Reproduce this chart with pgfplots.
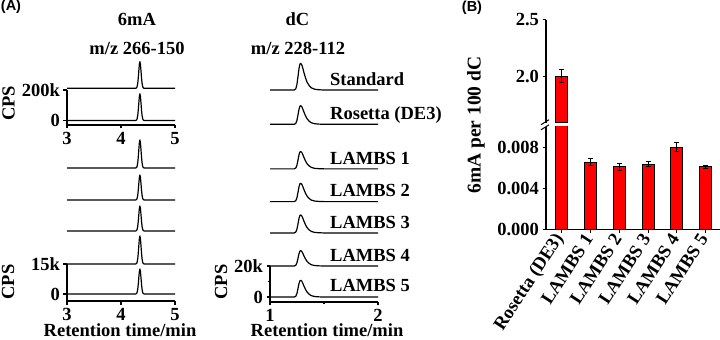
\documentclass[border=0pt]{standalone}
\usepackage{pgfplots}
\usepackage{pgfplotstable}
\pgfplotsset{compat=1.18}
\usepackage{fontspec}
\setmainfont{Liberation Serif}
\newfontfamily\arialfont{Liberation Sans}

\pgfplotstableread{
x std ros
3.00 211 0
4.27 211 0
4.29 214.5 3.5
4.30 225 14
4.31 244.3 33.3
4.32 279.3 68.3
4.33 326.5 115.5
4.34 368.5 157.5
4.35 386 175
4.36 368.5 157.5
4.37 326.5 115.5
4.38 279.3 68.3
4.39 244.3 33.3
4.40 225 14
4.41 214.5 3.5
4.43 211 0
5.00 211 0
}\sixtop

\pgfplotstableread{
x l1 l2 l3 l4 l5
3.00 63 47 31.5 15 0
4.27 63 47 31.5 15 0
4.29 63.28 47.25 31.75 15.28 0.25
4.30 64.12 48 32.5 16.12 1
4.31 65.66 49.38 33.88 17.66 2.38
4.32 68.46 51.88 36.38 20.46 4.88
4.33 72.24 55.25 39.75 24.24 8.25
4.34 75.6 58.25 42.75 27.6 11.25
4.35 77 59.5 44 29 12.5
4.36 75.6 58.25 42.75 27.6 11.25
4.37 72.24 55.25 39.75 24.24 8.25
4.38 68.46 51.88 36.38 20.46 4.88
4.39 65.66 49.38 33.88 17.66 2.38
4.40 64.12 48 32.5 16.12 1
4.41 63.28 47.25 31.75 15.28 0.25
4.43 63 47 31.5 15 0
5.00 63 47 31.5 15 0
}\sixbot

\pgfplotstableread{
x std ros
1.000 22.1 0
1.224 22.1 0
1.239 22.96 0.6
1.249 25.54 2.4
1.259 30.7 6
1.269 36.2 9.84
1.277 38.78 11.64
1.284 39.3 12
1.294 38.44 11.4
1.304 36.2 9.84
1.314 33.45 7.92
1.329 29.84 5.4
1.344 27.09 3.48
1.364 24.85 1.92
1.384 23.48 0.96
1.414 22.62 0.36
1.454 22.27 0.12
1.504 22.1 0
2.000 22.1 0
}\dctop

\pgfplotstableread{
x l1 l2 l3 l4 l5
1.000 82.6 61.5 41.3 20 0
1.224 82.6 61.5 41.3 20 0
1.239 83.16 62.09 41.88 20.5 0.54
1.249 84.84 63.86 43.62 21.98 2.16
1.259 88.2 67.4 47.1 24.95 5.4
1.269 91.78 71.18 50.81 28.12 8.86
1.277 93.46 72.95 52.55 29.6 10.48
1.284 93.8 73.3 52.9 29.9 10.8
1.294 93.24 72.71 52.32 29.41 10.26
1.304 91.78 71.18 50.81 28.12 8.86
1.314 89.99 69.29 48.96 26.53 7.13
1.329 87.64 66.81 46.52 24.46 4.86
1.344 85.85 64.92 44.66 22.87 3.13
1.364 84.39 63.39 43.16 21.58 1.73
1.384 83.5 62.44 42.23 20.79 0.86
1.414 82.94 61.85 41.65 20.3 0.32
1.454 82.71 61.62 41.42 20.1 0.11
1.504 82.6 61.5 41.3 20 0
2.000 82.6 61.5 41.3 20 0
}\dcbot

\pgfplotstableread{
x y err
0 2.005 0.058
1 0.00654 0.00036
2 0.00611 0.00033
3 0.00637 0.00024
4 0.00800 0.00044
5 0.00611 0.00013
}\bars

\pgfplotsset{
  trace/.style={black, line width=1.2bp, no marks, line join=round},
  base/.style={scale only axis, clip=false, enlargelimits=false,
    axis line style={-, line width=1.2bp, black},
    tick align=outside, major tick length=3.5bp, minor tick length=2.5bp,
    tick style={line width=1.2bp, black},
    tick label style={font=\fontsize{18.5bp}{22bp}\selectfont\bfseries},
    /pgf/number format/assume math mode=true,
    scaled ticks=false},
  chrom/.style={base, width=108bp, axis x line*=bottom, axis y line*=left},
  redbar/.style={fill=red, draw=black, line width=1bp, bar shift=0pt},
  ebars/.style={error bars/.cd, y dir=both, y explicit,
    error bar style={line width=1bp, black},
    error mark options={rotate=90, mark size=2.5bp, line width=1bp, black}},
}

\begin{document}
\begin{tikzpicture}[font=\fontsize{18.5bp}{22bp}\selectfont\bfseries]
\useasboundingbox (0,0) rectangle (720bp,340bp);

% 6mA top
\begin{axis}[chrom, at={(67bp,215bp)}, anchor=south west, height=35bp,
  xmin=3, xmax=5, ymin=-29.5, ymax=200, xtick={3,4,5}, ytick={0,200}, yticklabels={0,200k}]
\addplot[trace] table[x=x,y=std] {\sixtop};
\addplot[trace] table[x=x,y=ros] {\sixtop};
\end{axis}

% 6mA bottom
\begin{axis}[chrom, at={(67bp,39bp)}, anchor=south west, height=37bp,
  xmin=3, xmax=5, ymin=-3.5, ymax=15, xtick={3,4,5}, ytick={0,15}, yticklabels={0,15k}]
\addplot[trace] table[x=x,y=l1] {\sixbot};
\addplot[trace] table[x=x,y=l2] {\sixbot};
\addplot[trace] table[x=x,y=l3] {\sixbot};
\addplot[trace] table[x=x,y=l4] {\sixbot};
\addplot[trace] table[x=x,y=l5] {\sixbot};
\end{axis}

% dC top
\begin{axis}[base, hide axis, at={(270bp,215.7bp)}, anchor=south west, width=108bp, height=62bp,
  xmin=1, xmax=2, ymin=0, ymax=40]
\addplot[trace] table[x=x,y=std] {\dctop};
\addplot[trace] table[x=x,y=ros] {\dctop};
\end{axis}

% dC bottom
\begin{axis}[chrom, at={(270bp,38bp)}, anchor=south west, height=36bp,
  xmin=1, xmax=2, ymin=-3.2, ymax=20, xtick={1,2}, minor xtick={1.5},
  ytick={0,20}, yticklabels={0,20k}, minor ytick={10}]
\addplot[trace] table[x=x,y=l1] {\dcbot};
\addplot[trace] table[x=x,y=l2] {\dcbot};
\addplot[trace] table[x=x,y=l3] {\dcbot};
\addplot[trace] table[x=x,y=l4] {\dcbot};
\addplot[trace] table[x=x,y=l5] {\dcbot};
\end{axis}

% B lower
\begin{axis}[base, clip=true, at={(546bp,110.7bp)}, anchor=south west, width=174bp, height=102.5bp,
  axis x line*=bottom, axis y line*=left,
  xmin=-0.55, xmax=5.5, ymin=0, ymax=0.010,
  ytick={0,0.004,0.008}, yticklabels={0.000,0.004,0.008},
  xtick={0,1,2,3,4,5},
  xticklabels={Rosetta (DE3),LAMBS 1,LAMBS 2,LAMBS 3,LAMBS 4,LAMBS 5},
  xticklabel style={rotate=57, anchor=east},
  ybar, bar width=12bp]
\addplot[redbar, restrict x to domain=0.5:5.5, ebars]
  table[x=x, y=y, y error=err] {\bars};
\addplot[redbar, restrict x to domain=-0.5:0.5, y filter/.expression={min(y,0.011)}]
  table[x=x, y=y] {\bars};
\end{axis}

% B upper
\begin{axis}[base, clip=true, at={(546bp,217.3bp)}, anchor=south west, width=174bp, height=103.1bp,
  axis x line=none, axis y line*=left,
  xmin=-0.55, xmax=5.5, ymin=1.6, ymax=2.5,
  ytick={2.0,2.5}, yticklabels={2.0,2.5}, xtick=\empty,
  ybar, bar width=12bp]
\addplot[redbar, restrict x to domain=-0.5:0.5, ebars]
  table[x=x, y=y, y error=err] {\bars};
\end{axis}

% break marks
\draw[line width=1bp] (541bp,215.3bp) -- (549bp,220.3bp);
\draw[line width=1bp] (541bp,210.2bp) -- (549bp,215.2bp);

% texts
\node[font=\arialfont\fontsize{14.5bp}{16bp}\selectfont\bfseries] at (11bp,333.5bp) {(A)};
\node[font=\arialfont\fontsize{14.5bp}{16bp}\selectfont\bfseries] at (472bp,332.5bp) {(B)};
\node[anchor=base] at (137bp,314bp) {6mA};
\node[anchor=base] at (137bp,285.5bp) {m/z 266-150};
\node[anchor=base] at (297.5bp,314bp) {dC};
\node[anchor=base] at (298bp,285.5bp) {m/z 228-112};
\node[rotate=90] at (8.5bp,236.5bp) {CPS};
\node[rotate=90] at (8bp,58bp) {CPS};
\node[rotate=90] at (221bp,58bp) {CPS};
\node[anchor=base, inner sep=1bp] at (120bp,3.5bp) {Retention time/min};
\node[anchor=base, inner sep=1bp] at (327bp,3.5bp) {Retention time/min};
\node[rotate=90, font=\fontsize{19.5bp}{22bp}\selectfont\bfseries] at (476bp,215bp) {6mA per 100 dC};
\node[anchor=base west, inner sep=0] at (330bp,254.5bp) {Standard};
\node[anchor=base west, inner sep=0] at (330bp,220.2bp) {Rosetta (DE3)};
\node[anchor=base west, inner sep=0] at (330bp,175.5bp) {LAMBS 1};
\node[anchor=base west, inner sep=0] at (330bp,143bp) {LAMBS 2};
\node[anchor=base west, inner sep=0] at (330bp,111.5bp) {LAMBS 3};
\node[anchor=base west, inner sep=0] at (330bp,78.5bp) {LAMBS 4};
\node[anchor=base west, inner sep=0] at (330bp,48.5bp) {LAMBS 5};
\end{tikzpicture}
\end{document}
